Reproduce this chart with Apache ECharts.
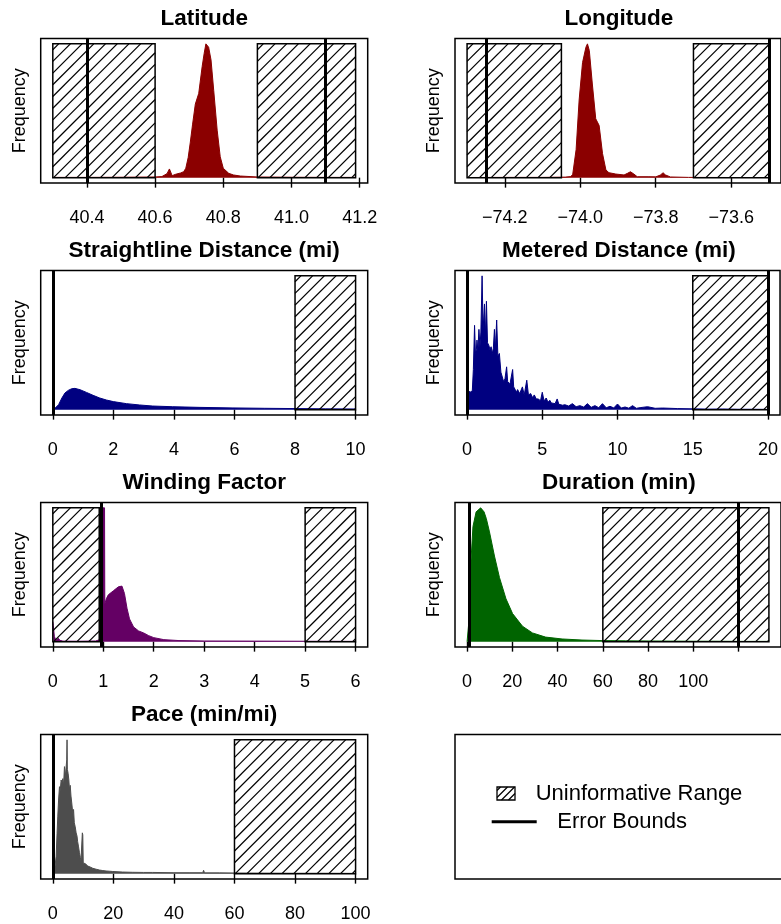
<!DOCTYPE html>
<html><head><meta charset="utf-8">
<script src="https://cdn.jsdelivr.net/npm/echarts@6/dist/echarts.min.js"></script>
<style>html,body{margin:0;padding:0;background:#fff}#c{width:781px;height:924px}</style>
</head><body><div id="c"></div>
<script>
const FONT = '"Liberation Sans", Arial, Helvetica, sans-serif';

// ---------- Latitude ----------
const latDensity = [[40.30,0.002],[40.40,0.002],[40.50,0.003],[40.60,0.005],[40.62,0.008],[40.635,0.03],[40.642,0.065],[40.65,0.015],[40.66,0.025],[40.675,0.035],[40.684,0.045],[40.69,0.07],[40.697,0.15],[40.703,0.26],[40.71,0.40],[40.718,0.55],[40.728,0.63],[40.738,0.83],[40.744,0.93],[40.749,1.0],[40.757,0.975],[40.764,0.88],[40.772,0.65],[40.782,0.355],[40.791,0.156],[40.80,0.07],[40.816,0.032],[40.83,0.02],[40.85,0.012],[40.90,0.005],[41.00,0.003],[41.10,0.002],[41.188,0.002]];
const latRange = [40.2645, 41.2235];
const latTicks = [40.4, 40.6, 40.8, 41.0, 41.2];
const latHatch = [[40.3, 40.6], [40.9, 41.188]];
const latErrors = [40.4, 41.1];

// ---------- Longitude ----------
const lonDensity = [[-74.30,0.001],[-74.20,0.002],[-74.10,0.002],[-74.04,0.004],[-74.025,0.008],[-74.02,0.025],[-74.011,0.21],[-74.003,0.58],[-73.994,0.86],[-73.985,0.975],[-73.981,1.0],[-73.976,0.95],[-73.968,0.70],[-73.959,0.44],[-73.954,0.43],[-73.950,0.39],[-73.941,0.18],[-73.932,0.057],[-73.924,0.037],[-73.906,0.027],[-73.884,0.02],[-73.875,0.032],[-73.867,0.044],[-73.858,0.027],[-73.849,0.007],[-73.818,0.007],[-73.80,0.006],[-73.787,0.02],[-73.781,0.037],[-73.774,0.02],[-73.761,0.005],[-73.713,0.002],[-73.60,0.001],[-73.50,0.001]];
const lonRange = [-74.332, -73.468];
const lonTicks = [-74.2, -74.0, -73.8, -73.6];
const lonHatch = [[-74.3, -74.05], [-73.7, -73.5]];
const lonErrors = [-74.25, -73.5];

// ---------- Straightline Distance ----------
const sdDensity = [[0,0.0],[0.08,0.012],[0.19,0.037],[0.3,0.087],[0.4,0.124],[0.51,0.144],[0.62,0.156],[0.73,0.159],[0.9,0.149],[1.11,0.129],[1.33,0.107],[1.55,0.087],[1.77,0.072],[2.0,0.06],[2.43,0.045],[2.86,0.035],[3.3,0.027],[3.96,0.022],[4.83,0.017],[5.92,0.013],[7.0,0.01],[8.0,0.008],[9.0,0.006],[10.0,0.005]];
const sdRange = [-0.4, 10.4];
const sdTicks = [0, 2, 4, 6, 8, 10];
const sdHatch = [[8, 10]];
const sdErrors = [0];

// ---------- Metered Distance ----------
const mdDensity = [[0,0],[0.03,0.15],[0.13,0.15],[0.2,0.13],[0.28,0.14],[0.35,0.14],[0.42,0.30],[0.5,0.63],[0.56,0.42],[0.62,0.45],[0.66,0.52],[0.72,0.44],[0.79,0.60],[0.86,0.47],[0.92,0.58],[1.0,1.0],[1.07,0.60],[1.16,0.79],[1.22,0.55],[1.29,0.81],[1.36,0.50],[1.45,0.48],[1.52,0.45],[1.6,0.47],[1.68,0.42],[1.75,0.46],[1.82,0.60],[1.88,0.45],[1.97,0.67],[2.05,0.40],[2.15,0.42],[2.25,0.28],[2.35,0.28],[2.43,0.21],[2.52,0.23],[2.63,0.32],[2.7,0.21],[2.76,0.22],[2.85,0.19],[2.95,0.19],[3.03,0.30],[3.1,0.17],[3.2,0.15],[3.28,0.13],[3.36,0.15],[3.5,0.12],[3.68,0.17],[3.8,0.11],[3.97,0.22],[4.08,0.11],[4.23,0.12],[4.35,0.09],[4.47,0.11],[4.6,0.08],[4.75,0.08],[4.88,0.065],[5.0,0.13],[5.12,0.065],[5.26,0.087],[5.38,0.055],[5.5,0.07],[5.6,0.05],[5.72,0.062],[5.85,0.045],[5.99,0.08],[6.1,0.04],[6.2,0.05],[6.35,0.033],[6.5,0.037],[6.75,0.027],[7.0,0.045],[7.25,0.022],[7.5,0.03],[7.75,0.019],[8.0,0.045],[8.25,0.017],[8.5,0.03],[8.75,0.015],[9.0,0.045],[9.25,0.014],[9.5,0.025],[9.75,0.013],[10.0,0.042],[10.25,0.012],[10.5,0.02],[10.75,0.011],[11.0,0.03],[11.25,0.01],[11.5,0.015],[12.0,0.022],[12.5,0.01],[13.0,0.012],[14.0,0.008],[15.0,0.006],[16.0,0.004],[17.0,0.005],[18.0,0.003],[19.0,0.003],[20.0,0.002]];
const mdRange = [-0.8, 20.8];
const mdTicks = [0, 5, 10, 15, 20];
const mdHatch = [[15, 20]];
const mdErrors = [0, 20];

// ---------- Winding Factor ----------
const wfDensity = [[0,0.15],[0.01,0.12],[0.03,0.04],[0.06,0.01],[0.09,0.02],[0.11,0.025],[0.14,0.01],[0.2,0.004],[0.5,0.003],[0.85,0.005],[0.93,0.015],[0.965,0.04],[0.975,1.0],[1.025,1.0],[1.03,0.28],[1.06,0.32],[1.1,0.35],[1.2,0.38],[1.3,0.41],[1.37,0.415],[1.42,0.36],[1.47,0.25],[1.52,0.17],[1.6,0.11],[1.7,0.08],[1.8,0.065],[1.9,0.045],[2.0,0.03],[2.2,0.015],[2.5,0.008],[3.0,0.005],[4.0,0.004],[5.0,0.003],[6.0,0.002]];
const wfRange = [-0.24, 6.24];
const wfTicks = [0, 1, 2, 3, 4, 5, 6];
const wfHatch = [[0, 0.92], [5, 6]];
const wfErrors = [0.96];

// ---------- Duration ----------
const duDensity = [[0,0],[0.6,0.0],[0.9,0.17],[1.5,0.54],[2.6,0.86],[4.0,0.97],[6.0,1.0],[7.5,0.97],[8.5,0.92],[9.9,0.82],[12.1,0.64],[14.3,0.48],[17.2,0.32],[20.1,0.21],[24.5,0.115],[28.9,0.065],[34.7,0.034],[42,0.02],[50.8,0.012],[59.6,0.008],[70,0.006],[80,0.005],[90,0.004],[100,0.003],[110,0.003],[120,0.002],[133.4,0.002]];
const duRange = [-5.34, 138.74];
const duTicks = [0, 20, 40, 60, 80, 100, 120];
const duLabels = [0, 20, 40, 60, 80, 100];
const duHatch = [[60, 133.4]];
const duErrors = [1, 120];

// ---------- Pace ----------
const pcDensity = [[0.3,0],[0.6,0.03],[1.1,0.13],[1.4,0.3],[1.65,0.43],[1.9,0.55],[2.2,0.65],[2.45,0.62],[2.75,0.70],[3.0,0.68],[3.3,0.71],[3.55,0.66],[3.85,0.80],[4.1,0.72],[4.4,0.71],[4.6,0.85],[4.7,1.0],[4.8,0.78],[5.05,0.75],[5.3,0.70],[5.5,0.63],[5.75,0.66],[6.0,0.58],[6.3,0.52],[6.6,0.45],[6.85,0.48],[7.1,0.38],[7.4,0.35],[7.7,0.305],[8.0,0.28],[8.2,0.24],[8.5,0.2],[8.8,0.156],[9.1,0.12],[9.3,0.094],[9.6,0.09],[9.75,0.305],[9.9,0.29],[10.05,0.08],[10.3,0.078],[10.8,0.074],[11.5,0.057],[12.3,0.05],[13.2,0.04],[14.3,0.033],[15.4,0.027],[16.5,0.023],[17.6,0.02],[18.8,0.018],[19.8,0.016],[20.0,0.025],[20.3,0.014],[23,0.012],[26.4,0.01],[30,0.009],[33.0,0.009],[33.3,0.017],[33.6,0.008],[40,0.007],[45,0.007],[49.5,0.007],[49.8,0.025],[50.1,0.006],[55,0.006],[60,0.005],[70,0.004],[80,0.003],[90,0.003],[100,0.002]];
const pcRange = [-4, 104];
const pcTicks = [0, 20, 40, 60, 80, 100];
const pcHatch = [[60, 100]];
const pcErrors = [0];

// ---------- Legend ----------
const legendLabels = ['Uninformative Range', 'Error Bounds'];

// ---------- Layout (positions/styles) ----------
const colL = 40.7, colR = 455, wL = 327, wR = 327.7;
const rowTops = [38.5, 270.5, 502.5, 734.5], boxH = 144.5;

const panels = [
  {title:'Latitude', data:latDensity, range:latRange, ticks:latTicks, labels:latTicks, fmt:v=>v.toFixed(1), hatch:latHatch, err:latErrors, color:'#8B0000', col:0, row:0},
  {title:'Longitude', data:lonDensity, range:lonRange, ticks:lonTicks, labels:lonTicks, fmt:v=>(v<0?'\u2212':'')+Math.abs(v).toFixed(1), hatch:lonHatch, err:lonErrors, color:'#8B0000', col:1, row:0},
  {title:'Straightline Distance (mi)', data:sdDensity, range:sdRange, ticks:sdTicks, labels:sdTicks, fmt:v=>String(v), hatch:sdHatch, err:sdErrors, color:'#000080', col:0, row:1},
  {title:'Metered Distance (mi)', data:mdDensity, range:mdRange, ticks:mdTicks, labels:mdTicks, fmt:v=>String(v), hatch:mdHatch, err:mdErrors, color:'#000080', col:1, row:1},
  {title:'Winding Factor', data:wfDensity, range:wfRange, ticks:wfTicks, labels:wfTicks, fmt:v=>String(v), hatch:wfHatch, err:wfErrors, color:'#640064', col:0, row:2},
  {title:'Duration (min)', data:duDensity, range:duRange, ticks:duTicks, labels:duLabels, fmt:v=>String(v), hatch:duHatch, err:duErrors, color:'#006400', col:1, row:2},
  {title:'Pace (min/mi)', data:pcDensity, range:pcRange, ticks:pcTicks, labels:pcTicks, fmt:v=>String(v), hatch:pcHatch, err:pcErrors, color:'#4D4D4D', col:0, row:3}
];

const HATCH_STEP = 11.7;
function hatchLines(L, T, R, B, step, lw) {
  const out = [];
  for (let c = L + T + step * 0.5; c < R + B; c += step) {
    const xa = Math.max(L, c - B), xb = Math.min(R, c - T);
    if (xb > xa) out.push({type:'line', shape:{x1:xa, y1:c - xa, x2:xb, y2:c - xb}, style:{stroke:'#000', lineWidth:lw}});
  }
  return out;
}
function renderHatch(params, api) {
  const p0 = api.coord([api.value(0), 0]);
  const p1 = api.coord([api.value(1), 1]);
  const L = p0[0], B = p0[1], R = p1[0], T = p1[1];
  const children = hatchLines(L, T, R, B, HATCH_STEP, 1.25);
  children.push({type:'rect', shape:{x:L, y:T, width:R - L, height:B - T}, style:{fill:'none', stroke:'#000', lineWidth:1.5}});
  return {type:'group', children};
}

const grids = [], xAxes = [], yAxes = [], series = [], graphics = [];
panels.forEach((p, i) => {
  const left = p.col === 0 ? colL : colR;
  const width = p.col === 0 ? wL : wR;
  const top = rowTops[p.row];
  grids.push({left, top, width, height:boxH, show:true, borderColor:'#000', borderWidth:1.5, backgroundColor:'transparent', containLabel:false});
  xAxes.push({
    gridIndex:i, type:'value', min:p.range[0], max:p.range[1],
    axisLine:{show:false}, splitLine:{show:false},
    axisTick:{show:true, inside:false, length:10, customValues:p.ticks, lineStyle:{color:'#000', width:1.4}},
    axisLabel:{show:true, customValues:p.labels, formatter:p.fmt, margin:26.5, fontSize:18, color:'#000', fontFamily:FONT}
  });
  yAxes.push({
    gridIndex:i, type:'value', min:-0.04, max:1.04,
    axisLine:{show:false}, axisTick:{show:false}, axisLabel:{show:false}, splitLine:{show:false},
    name:'Frequency', nameLocation:'middle', nameRotate:90, nameGap:12,
    nameTextStyle:{fontSize:18, color:'#000', fontFamily:FONT}
  });
  series.push({
    type:'line', xAxisIndex:i, yAxisIndex:i, data:p.data, symbol:'none', smooth:false, z:2,
    lineStyle:{color:p.color, width:1}, itemStyle:{color:p.color},
    areaStyle:{color:p.color, opacity:1},
    markLine:{silent:true, symbol:['none','none'], label:{show:false}, z:6,
      lineStyle:{color:'#000', width:3, type:'solid'},
      emphasis:{disabled:true},
      data:p.err.map(v => ({xAxis:v}))}
  });
  series.push({
    type:'custom', xAxisIndex:i, yAxisIndex:i, z:3, silent:true,
    data:p.hatch.map(h => [h[0], h[1], 1]),
    encode:{x:[0,1], y:2},
    renderItem:renderHatch
  });
  graphics.push({type:'text', x:left + width / 2, y:top - 19.3,
    style:{text:p.title, fill:'#000', font:'bold 22.5px ' + FONT, textAlign:'center', textVerticalAlign:'middle'}});
});

// Legend panel
const lgTop = rowTops[3];
graphics.push({type:'rect', shape:{x:colR, y:lgTop, width:wR + 10, height:boxH}, style:{fill:'none', stroke:'#000', lineWidth:1.5}});
graphics.push({type:'group', children: hatchLines(497, 787, 515, 800, 7, 1.3).concat([
  {type:'rect', shape:{x:497, y:787, width:18, height:13}, style:{fill:'none', stroke:'#000', lineWidth:1.3}}
])});
graphics.push({type:'text', x:535.7, y:794, style:{text:legendLabels[0], fill:'#000', font:'22px ' + FONT, textAlign:'left', textVerticalAlign:'middle'}});
graphics.push({type:'line', shape:{x1:491.7, y1:821.7, x2:536.7, y2:821.7}, style:{stroke:'#000', lineWidth:3}});
graphics.push({type:'text', x:557.3, y:822, style:{text:legendLabels[1], fill:'#000', font:'22px ' + FONT, textAlign:'left', textVerticalAlign:'middle'}});

const chart = echarts.init(document.getElementById('c'), null, {renderer:'canvas'});
chart.setOption({
  animation:false,
  backgroundColor:'#fff',
  grid:grids, xAxis:xAxes, yAxis:yAxes, series:series,
  graphic:graphics
});
</script></body></html>
